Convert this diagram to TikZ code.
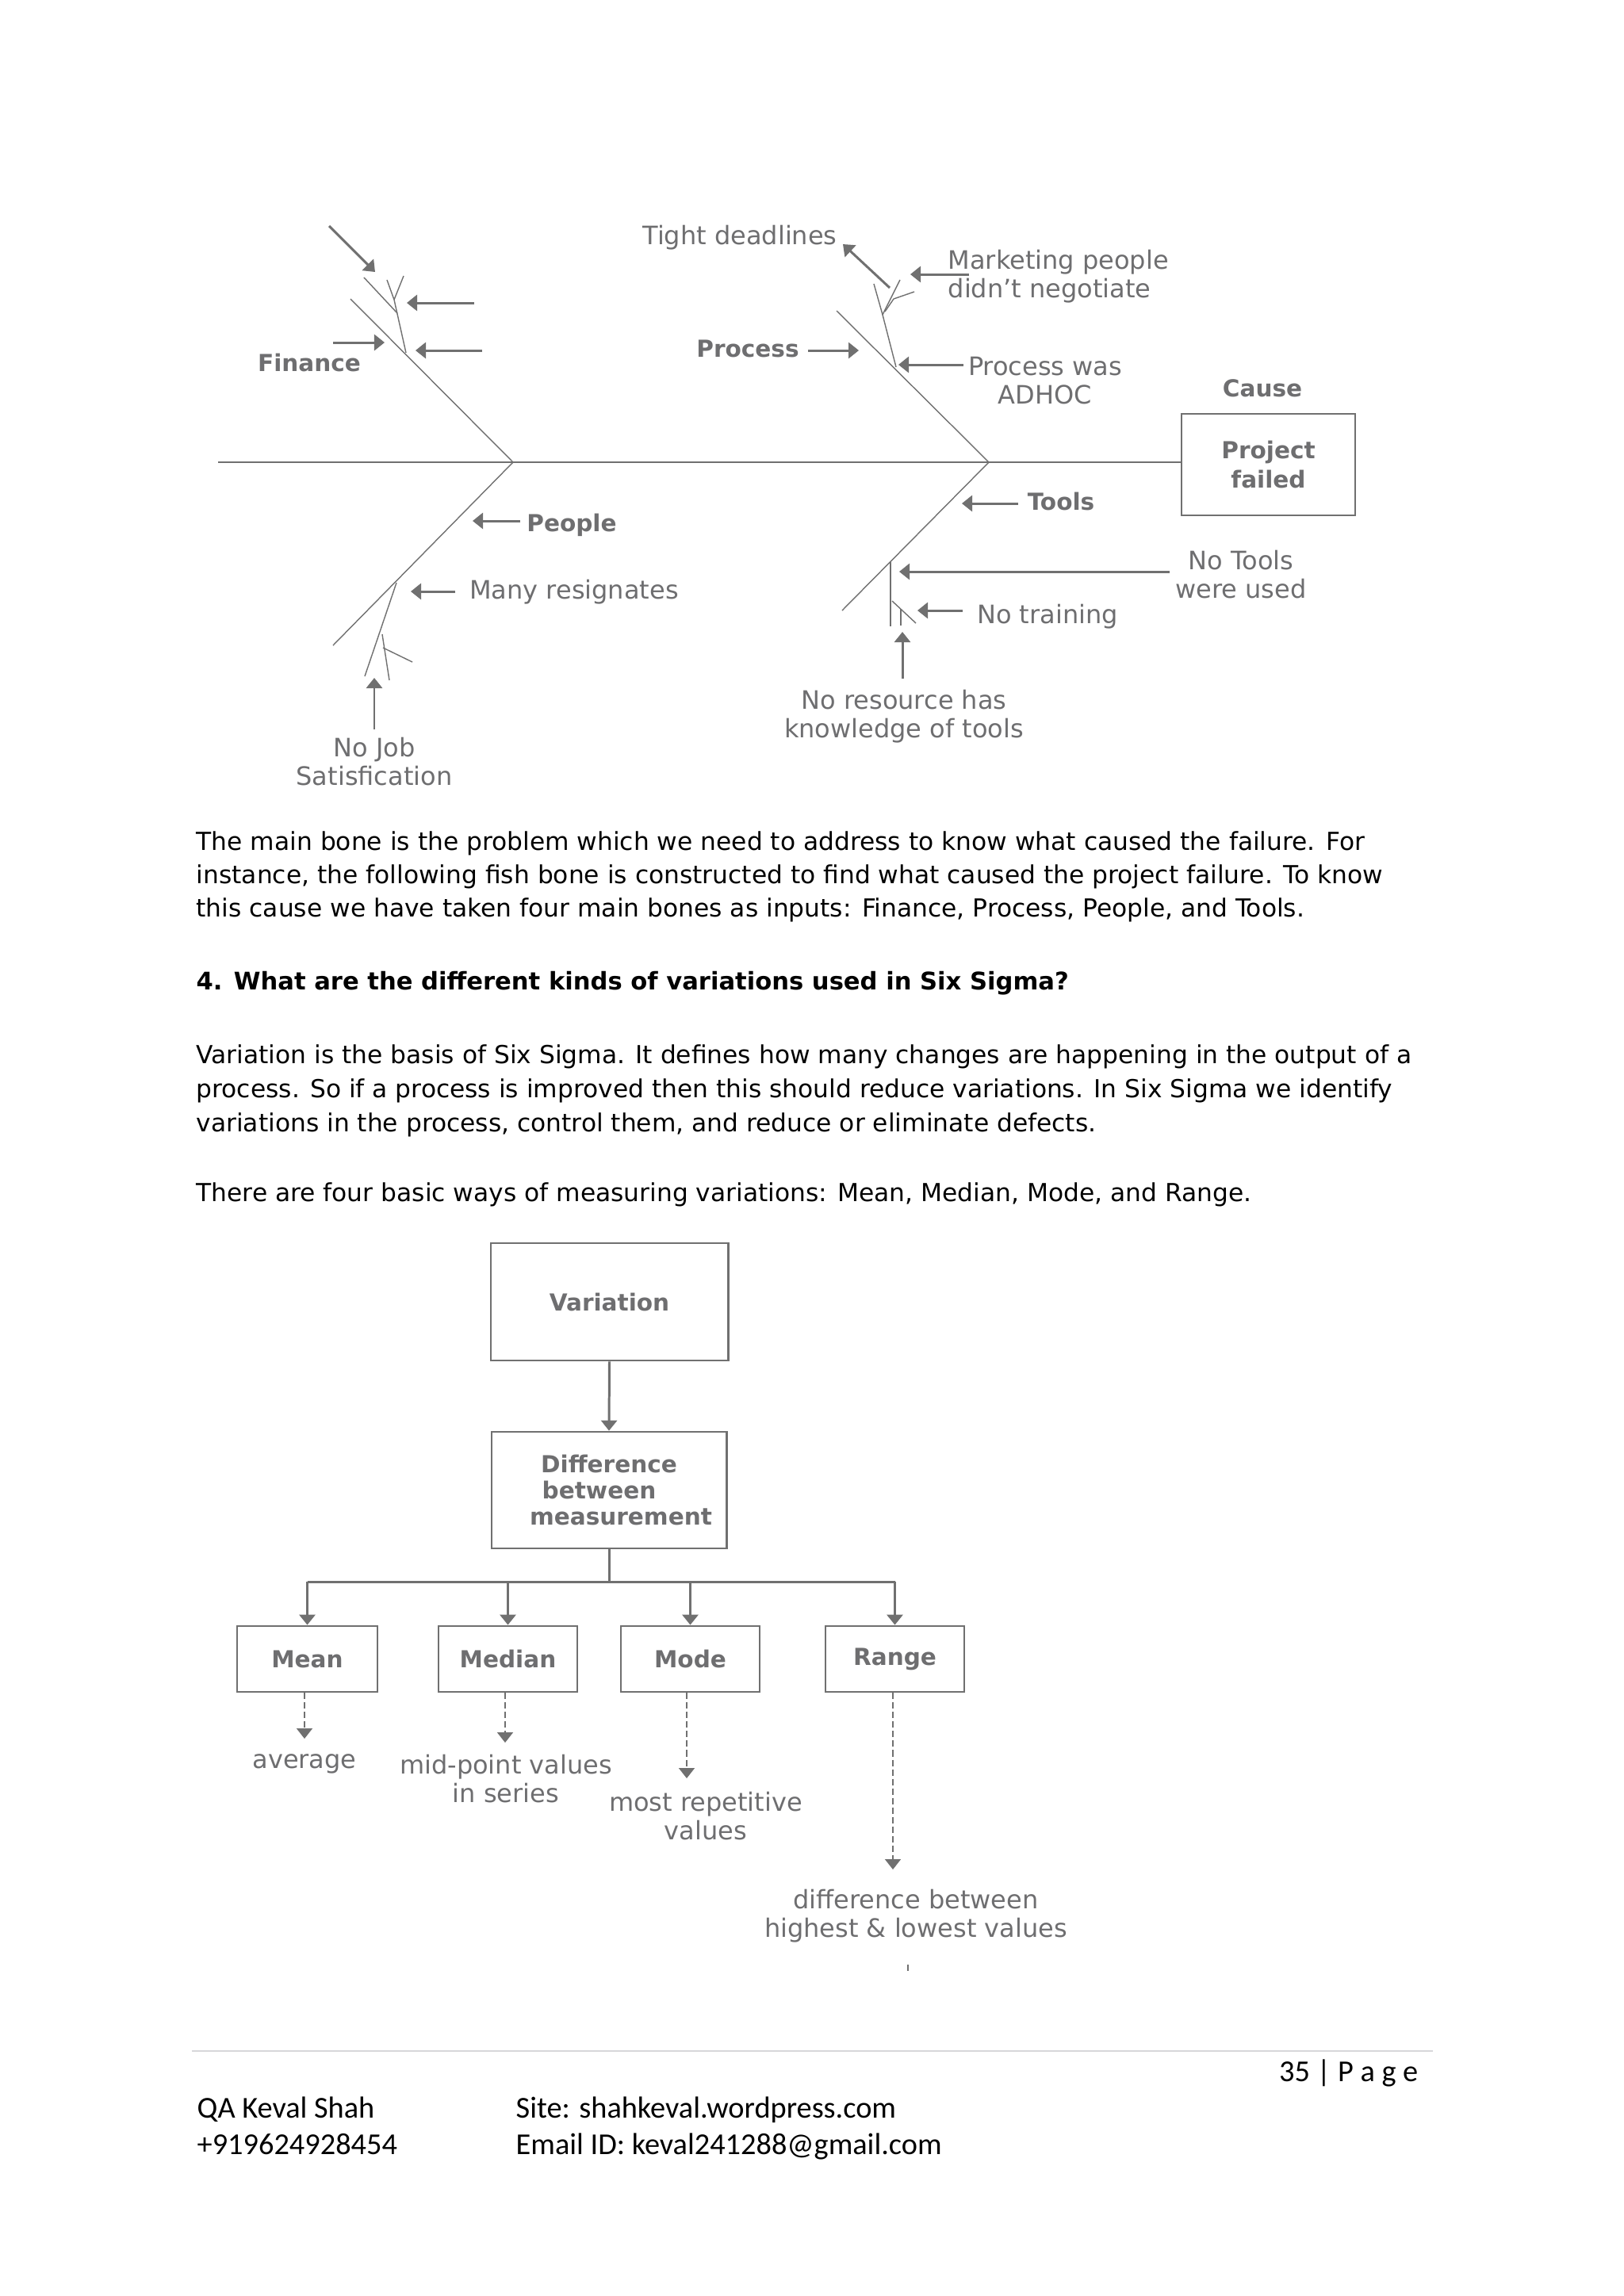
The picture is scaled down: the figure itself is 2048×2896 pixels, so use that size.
\documentclass[tikz,border=0pt]{standalone}
\usepackage{fontspec}
\setmainfont{DejaVu Sans}
\newfontfamily\footfont{Carlito}
\usetikzlibrary{arrows.meta}
\definecolor{dg}{RGB}{112,112,112}
\definecolor{dt}{RGB}{110,110,112}
\definecolor{sepc}{RGB}{215,215,218}
\begin{document}
\begin{tikzpicture}[x=0.01cm,y=-0.01cm,
  spine/.style={draw=dg,line width=0.7pt},
  bone/.style={draw=dg,line width=0.4pt},
  arr/.style={draw=dg,line width=0.85pt,-{Triangle[length=0.13cm,width=0.2cm]}},
  darr/.style={draw=dg,line width=0.5pt,dash pattern=on 0.08cm off 0.04cm,-{Triangle[length=0.13cm,width=0.2cm]}},
  lbl/.style={text=dt,font=\fontsize{9.1pt}{10pt}\selectfont,align=center,inner sep=0pt,anchor=base},
  blbl/.style={text=dt,font=\fontsize{8.4pt}{10pt}\selectfont\bfseries,align=center,inner sep=0pt,anchor=base},
  box/.style={draw=dg,line width=0.8pt,inner sep=0pt,text=dt,font=\fontsize{8.4pt}{10.4pt}\selectfont\bfseries,align=center},
  body/.style={anchor=base west,inner sep=0pt,font=\fontsize{8.9pt}{10pt}\selectfont},
  foot/.style={anchor=base west,inner sep=0pt,font=\footfont\fontsize{10.9pt}{12pt}\selectfont}]
\useasboundingbox[fill=white] (0,0) rectangle (2048,2896);

% ---------------- fishbone ----------------
\coordinate (tail) at (275,583);
\coordinate (j1) at (647,583);
\coordinate (j2) at (1247,583);
\coordinate (fin) at (442,377);
\coordinate (peo) at (420,814);
\coordinate (pro) at (1055,392);
\coordinate (too) at (1062,770);

\node[box,minimum width=2.19cm,minimum height=1.28cm] (pf) at (1599.5,586) {Project\\failed};
\draw[spine] (tail) -- (tail -| pf.west);
\draw[bone] (j1) -- (fin);
\draw[bone] (j1) -- (peo);
\draw[bone] (j2) -- (pro);
\draw[bone] (j2) -- (too);

% finance sub-bones
\coordinate (f1) at (459,350); \coordinate (f2) at (501,395);
\coordinate (f3) at (497,378); \coordinate (f4) at (512,445);
\coordinate (f5) at (488,353); \coordinate (f6) at (509,348);
\draw[bone] (f1) -- (f2);
\draw[bone] (f5) -- (f3) -- (f4);
\draw[bone] (f6) -- (f3);

% process sub-bones
\coordinate (p1) at (1113,397); \coordinate (p2) at (1130,463);
\coordinate (p3) at (1102,358); \coordinate (p4) at (1135,353);
\coordinate (p5) at (1153,368); \coordinate (p6) at (1127,377);
\coordinate (p7) at (1116,393);
\draw[bone] (p3) -- (p1) -- (p2);
\draw[bone] (p4) -- (p1);
\draw[bone] (p5) -- (p6) -- (p7);

% people sub-bones
\coordinate (q1) at (500,735); \coordinate (q2) at (460,853);
\coordinate (q3) at (482,800); \coordinate (q4) at (491,858);
\coordinate (q5) at (483,817); \coordinate (q6) at (520,835);
\draw[bone] (q1) -- (q2);
\draw[bone] (q3) -- (q4);
\draw[bone] (q5) -- (q6);

% tools sub-bones
\coordinate (t1) at (1123,709); \coordinate (t2) at (1123,790);
\coordinate (t3) at (1125,758); \coordinate (t4) at (1155,786);
\coordinate (t5) at (1136,768); \coordinate (t6) at (1136,789);
\draw[bone] (t1) -- (t2);
\draw[bone] (t3) -- (t4);
\draw[bone] (t5) -- (t6);

% arrows
\foreach \n/\a/\b/\c/\d in {1/415/285/473/343, 2/598/382/513/382, 3/608/442/524/442,
  4/420/432/485/432, 5/1122/363/1063/308, 6/1222/346/1148/346, 7/1019/442/1083/442,
  8/1215/460/1133/460, 9/656/657/596/657, 10/574/746/518/746, 11/472/920/472/855,
  12/1284/635/1213/635, 13/1475/721/1134/721, 14/1214/770/1157/770, 15/1138/856/1138/797}{
  \coordinate (as\n) at (\a,\b);
  \coordinate (ae\n) at (\c,\d);
  \draw[arr] (as\n) -- (ae\n);
}

% labels (two-line labels are anchored on the baseline of their last line)
\node[blbl] (lfin) at (390,468) {Finance};
\node[blbl] (lpro) at (943,450) {Process};
\node[blbl] (lpeo) at (721,670) {People};
\node[blbl] (ltoo) at (1338,643) {Tools};
\node[blbl] (lcau) at (1592,500) {Cause};
\node[lbl] (ltig) at (933,308) {Tight deadlines};
\node[lbl,align=left,anchor=base west] (lmkt) at (1195,375) {Marketing people\\didn{\char"27}t negotiate};
\node[lbl] (ladh) at (1318,509) {Process was\\ADHOC};
\node[lbl] (lntu) at (1565,754) {No Tools\\were used};
\node[lbl] (lntr) at (1321,786) {No training};
\node[lbl] (lres) at (1140,930) {No resource has\\knowledge of tools};
\node[lbl] (lmany) at (724,755) {Many resignates};
\node[lbl] (ljob) at (472,990) {No Job\\Satisfication};

% ---------------- body text ----------------
\node[body] (b1) at (247,1072) {The main bone is the problem which we need to address to know what caused the failure. For};
\node[body] (b2) at (247,1114) {instance, the following fish bone is constructed to find what caused the project failure. To know};
\node[body] (b3) at (247,1156) {this cause we have taken four main bones as inputs: Finance, Process, People, and Tools.};
\node[body,font=\fontsize{8.7pt}{10pt}\selectfont\bfseries] (hd) at (247,1248) {4. What are the different kinds of variations used in Six Sigma?};
\node[body] (c1) at (247,1341) {Variation is the basis of Six Sigma. It defines how many changes are happening in the output of a};
\node[body] (c2) at (247,1384) {process. So if a process is improved then this should reduce variations. In Six Sigma we identify};
\node[body] (c3) at (247,1427) {variations in the process, control them, and reduce or eliminate defects.};
\node[body] (d1) at (247,1515) {There are four basic ways of measuring variations: Mean, Median, Mode, and Range.};

% ---------------- variation chart ----------------
\node[box,minimum width=2.99cm,minimum height=1.48cm] (var) at (768.5,1642) {Variation};
\node[box,minimum width=2.96cm,minimum height=1.47cm] (diff) at (768,1879.5) {Difference\\[-1pt]\hspace*{-0.25cm}between\\[-1pt]\hspace*{0.3cm}measurement};
\node[box,minimum width=1.77cm,minimum height=0.83cm] (mean) at (387.5,2092.5) {Mean};
\node[box,minimum width=1.75cm,minimum height=0.83cm] (median) at (640.5,2092.5) {Median};
\node[box,minimum width=1.75cm,minimum height=0.83cm] (mode) at (870.5,2092.5) {Mode};
\node[box,minimum width=1.75cm,minimum height=0.83cm] (range) at (1128.5,2092.5) {Range};

\draw[arr] (var.south) -- (diff.north);
\coordinate (bus) at (768,1995);
\draw[draw=dg,line width=0.85pt] (diff.south) -- (bus);
\draw[draw=dg,line width=0.85pt] (mean.north |- bus) -- (range.north |- bus);
\foreach \b in {mean,median,mode,range}{
  \draw[arr] (\b.north |- bus) -- (\b.north);
}

\coordinate (tm) at (384,2193);
\coordinate (tmd) at (637,2198);
\coordinate (tmo) at (866,2243);
\coordinate (tr) at (1126,2358);
\draw[darr] (mean.south -| tm) -- (tm);
\draw[darr] (median.south -| tmd) -- (tmd);
\draw[darr] (mode.south -| tmo) -- (tmo);
\draw[darr] (range.south -| tr) -- (tr);

\node[lbl] (lavg) at (384,2230) {average};
\node[lbl] (lmid) at (638,2273) {mid-point values\\in series};
\node[lbl] (lrep) at (890,2320) {most repetitive\\values};
\node[lbl] (ldif) at (1155,2443) {difference between\\highest \& lowest values};
\coordinate (tk1) at (1145,2478);
\coordinate (tk2) at (1145,2486);
\draw[draw=dg,line width=0.4pt] (tk1) -- (tk2);

% ---------------- footer ----------------
\coordinate (s1) at (242,2587);
\coordinate (s2) at (1807,2587);
\draw[draw=sepc,line width=0.8pt] (s1) -- (s2);
\node[foot,anchor=base east] (pg) at (1789,2625) {35 | P a g e};
\node[foot] (f1n) at (248,2671) {QA Keval Shah};
\node[foot] (f2n) at (248,2717) {+919624928454};
\node[foot] (f3n) at (650,2671) {Site: shahkeval.wordpress.com};
\node[foot] (f4n) at (650,2717) {Email ID: keval241288@gmail.com};
\end{tikzpicture}
\end{document}
